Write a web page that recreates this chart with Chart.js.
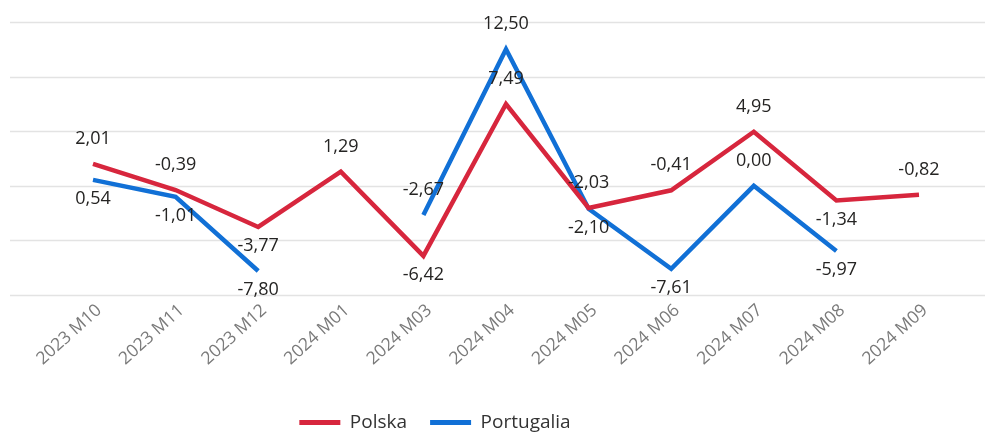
<!DOCTYPE html>
<html>
<head>
<meta charset="utf-8">
<script src="https://cdn.jsdelivr.net/npm/chart.js@4.4.1/dist/chart.umd.min.js"></script>
<style>
  html, body { margin: 0; padding: 0; background: #ffffff; }
  #wrap { width: 985px; height: 432px; position: relative; }
</style>
</head>
<body>
<div id="wrap"><canvas id="c" width="985" height="432"></canvas></div>
<script>
const categories = ['2023 M10', '2023 M11', '2023 M12', '2024 M01', '2024 M03', '2024 M04', '2024 M05', '2024 M06', '2024 M07', '2024 M08', '2024 M09'];
const polska = [2.01, -0.39, -3.77, 1.29, -6.42, 7.49, -2.03, -0.41, 4.95, -1.34, -0.82];
const portugalia = [0.54, -1.01, -7.80, null, -2.67, 12.50, -2.10, -7.61, 0.00, -5.97, null];
const yTicks = [-10, -5, 0, 5, 10, 15];

// label placement (style): 'a' above, 'b' below
const polskaLabelPos = ['a', 'a', 'b', 'a', 'b', 'a', 'a', 'a', 'a', 'b', 'a'];
const portugaliaLabelPos = ['b', 'b', 'b', 'b', 'a', 'a', 'b', 'b', 'a', 'b', 'b'];

const FONT = "'Open Sans', 'Noto Sans', sans-serif";

const gridPlugin = {
  id: 'fullGrid',
  beforeDatasetsDraw(chart) {
    const ctx = chart.ctx;
    const y = chart.scales.y;
    ctx.save();
    ctx.strokeStyle = '#e3e3e3';
    ctx.lineWidth = 1.5;
    yTicks.forEach(v => {
      const py = Math.round(y.getPixelForValue(v)) + 0.5;
      ctx.beginPath();
      ctx.moveTo(10, py);
      ctx.lineTo(985, py);
      ctx.stroke();
    });
    ctx.restore();
  }
};

const labelPlugin = {
  id: 'pointLabels',
  afterDatasetsDraw(chart) {
    const ctx = chart.ctx;
    ctx.save();
    ctx.font = '18px ' + FONT;
    ctx.fillStyle = '#252423';
    ctx.textAlign = 'center';
    ctx.textBaseline = 'middle';
    chart.data.datasets.forEach((ds, di) => {
      const meta = chart.getDatasetMeta(di);
      const posArr = ds.labelPos;
      meta.data.forEach((pt, i) => {
        const v = ds.data[i];
        if (v === null || v === undefined) return;
        const txt = v.toFixed(2).replace('.', ',');
        const above = posArr[i] === 'a';
        const yy = above ? pt.y - 25 : pt.y + 19;
        ctx.fillText(txt, pt.x, yy);
      });
    });
    ctx.restore();
  }
};

const legendShift = {
  id: 'legendShift',
  afterLayout(chart) {
    const lg = chart.legend;
    if (!lg) return;
    lg.left -= 71; lg.right -= 71;
    lg.top += 10; lg.bottom += 10;
    if (lg.legendHitBoxes) {
      lg.legendHitBoxes.forEach(h => { h.left -= 71; h.top += 10; });
    }
  }
};

new Chart(document.getElementById('c'), {
  type: 'line',
  data: {
    labels: categories,
    datasets: [
      {
        label: 'Polska',
        data: polska,
        labelPos: polskaLabelPos,
        borderColor: '#D7263D',
        backgroundColor: '#D7263D',
        borderWidth: 4.5,
        pointRadius: 0,
        pointHoverRadius: 0,
        tension: 0,
        spanGaps: false
      },
      {
        label: 'Portugalia',
        data: portugalia,
        labelPos: portugaliaLabelPos,
        borderColor: '#1170D6',
        backgroundColor: '#1170D6',
        borderWidth: 4.5,
        pointRadius: 0,
        pointHoverRadius: 0,
        tension: 0,
        spanGaps: false
      }
    ]
  },
  options: {
    responsive: false,
    animation: false,
    layout: { padding: { left: 93, right: 66, top: 22, bottom: 0 } },
    plugins: {
      tooltip: { enabled: false },
      legend: {
        position: 'bottom',
        labels: {
          boxWidth: 41,
          boxHeight: 5,
          padding: 23,
          color: '#333333',
          font: { family: FONT, size: 19 },
          generateLabels(chart) {
            const items = Chart.defaults.plugins.legend.labels.generateLabels(chart);
            items.forEach(it => { it.lineWidth = 0; it.strokeStyle = 'rgba(0,0,0,0)'; });
            return items;
          }
        }
      }
    },
    scales: {
      x: {
        offset: false,
        grid: { display: false },
        border: { display: false },
        ticks: {
          color: '#7a7a7a',
          font: { family: FONT, size: 17.5 },
          minRotation: 42,
          maxRotation: 42,
          autoSkip: false,
          padding: -3,
          labelOffset: 6
        },
        afterFit(scale) { scale.height = 85; }
      },
      y: {
        min: -10,
        max: 15,
        grid: { display: false },
        border: { display: false },
        ticks: { display: false, stepSize: 5 },
        afterFit(scale) { scale.width = 0; }
      }
    }
  },
  plugins: [gridPlugin, labelPlugin, legendShift]
});
</script>
</body>
</html>
